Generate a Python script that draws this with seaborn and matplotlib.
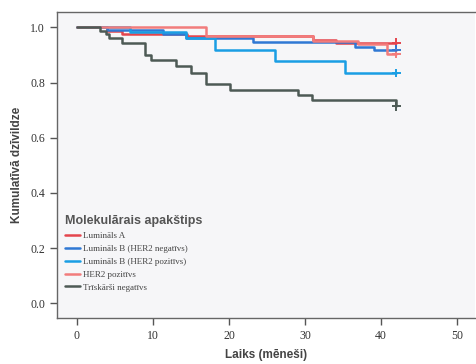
import numpy as np
import pandas as pd
import matplotlib
matplotlib.use("Agg")
import matplotlib.pyplot as plt
import seaborn as sns

groups = ["Lumināls A", "Lumināls B (HER2 negatīvs)", "Lumināls B (HER2 pozitīvs)",
          "HER2 pozitīvs", "Trīskārši negatīvs"]
colors = ["#e4454d", "#2f78d4", "#1a9ee4", "#f27c7c", "#4d5a55"]

lumA_t = [0, 4, 6, 14.5, 31, 34, 42]
lumA_s = [1.0, 0.988, 0.978, 0.97, 0.955, 0.945, 0.945]
lumBneg_t = [0, 4, 11.3, 14.4, 23.1, 36.5, 39, 42]
lumBneg_s = [1.0, 0.99, 0.978, 0.962, 0.948, 0.93, 0.92, 0.92]
lumBpos_t = [0, 7, 14.4, 18.1, 26, 35.2, 42]
lumBpos_s = [1.0, 0.985, 0.962, 0.92, 0.877, 0.835, 0.835]
her2_t = [0, 17, 31, 37, 40.8, 42]
her2_s = [1.0, 0.97, 0.95, 0.94, 0.905, 0.905]
tneg_t = [0, 3, 3.9, 4.2, 5.9, 8.9, 9.8, 13.1, 15.0, 17.0, 20.1, 29.0, 30.9, 42]
tneg_s = [1.0, 0.986, 0.976, 0.96, 0.942, 0.90, 0.882, 0.86, 0.836, 0.795, 0.773, 0.755, 0.736, 0.714]

xticks = [0, 10, 20, 30, 40, 50]
yticks = [0.0, 0.2, 0.4, 0.6, 0.8, 1.0]

series = [(lumA_t, lumA_s), (lumBneg_t, lumBneg_s), (lumBpos_t, lumBpos_s),
          (her2_t, her2_s), (tneg_t, tneg_s)]
rows = []
for g, (t, s) in zip(groups, series):
    for ti, si in zip(t, s):
        rows.append({"t": ti, "s": si, "group": g})
df = pd.DataFrame(rows)
ends = df.groupby("group", sort=False).tail(1)

sns.set_style("white")
fig = plt.figure(figsize=(4.77, 3.64), dpi=100)
ax = fig.add_axes([0.1195, 0.126, 0.876, 0.841])
ax.set_facecolor("#f6f6f8")

sns.lineplot(data=df, x="t", y="s", hue="group", hue_order=groups,
             palette=colors, estimator=None, sort=False,
             drawstyle="steps-post", linewidth=1.8, ax=ax, legend=True)
sns.scatterplot(data=ends, x="t", y="s", hue="group", hue_order=groups,
                palette=colors, marker="+", s=40, linewidth=1.4, ax=ax,
                legend=False)

ax.set_xlim(-2.6, 52.3)
ax.set_ylim(-0.054, 1.056)
ax.set_xticks(xticks)
ax.set_yticks(yticks)
ax.set_xticklabels([str(v) for v in xticks], family="Liberation Serif",
                   fontsize=8.5, color="#333333")
ax.set_yticklabels([f"{v:.1f}" for v in yticks], family="Liberation Serif",
                   fontsize=8.5, color="#333333")
ax.tick_params(axis="both", direction="out", length=5, width=1, color="#555555",
               bottom=True, left=True)
for sp in ax.spines.values():
    sp.set_color("#666666")
    sp.set_linewidth(1.0)
ax.spines["right"].set_visible(False)

ax.set_xlabel("Laiks (mēneši)", family="Liberation Sans", fontweight="bold",
              fontsize=8.5, color="#444444", labelpad=5)
ax.set_ylabel("Kumulatīvā dzīvildze", family="Liberation Sans",
              fontweight="bold", fontsize=8.5, color="#444444", labelpad=5)

handles, labels = ax.get_legend_handles_labels()
leg = ax.legend(handles, labels, title="Molekulārais apakštips",
                loc="lower left", bbox_to_anchor=(0.0, 0.06), frameon=False,
                prop={"family": "Liberation Serif", "size": 6.5},
                handlelength=1.6, labelspacing=0.5, handletextpad=0.4)
leg.get_title().set_fontweight("bold")
leg.get_title().set_family("Liberation Sans")
leg.get_title().set_fontsize(9)
leg.get_title().set_color("#555555")
leg._legend_box.align = "left"
for t in leg.get_texts():
    t.set_color("#444444")

fig.savefig("out.png", dpi=100)
